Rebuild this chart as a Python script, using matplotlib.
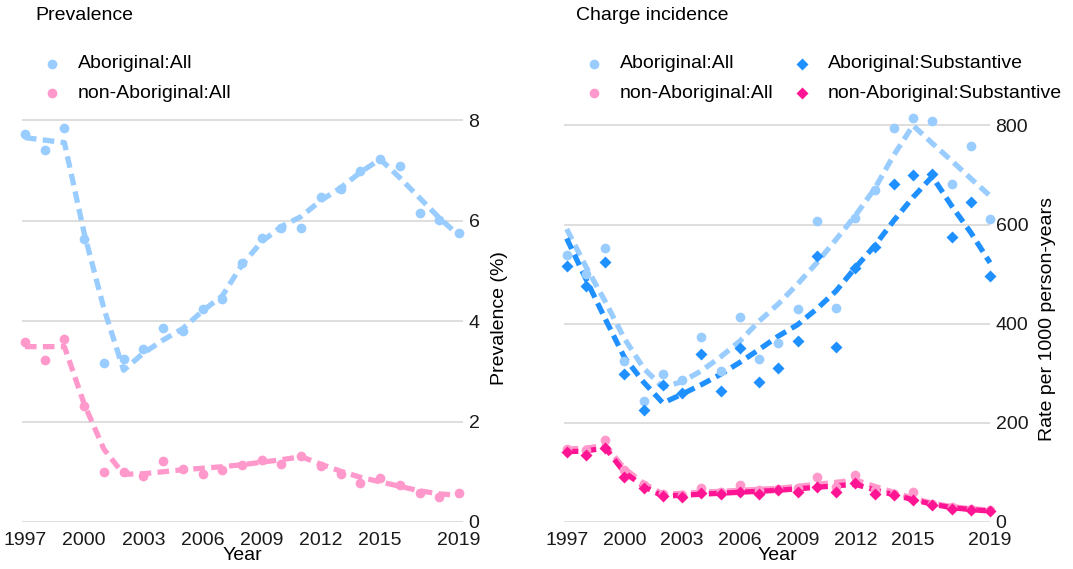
import numpy as np
import matplotlib.pyplot as plt

plt.rcParams['font.family'] = ['Liberation Sans', 'DejaVu Sans']

# data
years = list(range(1997, 2020))

# prevalence (%)
prev_abor = [7.72, 7.40, 7.84, 5.63, 3.16, 3.25, 3.45, 3.87, 3.80, 4.24, 4.43, 5.16,
             5.65, 5.86, 5.86, 6.47, 6.62, 6.99, 7.22, 7.09, 6.14, 6.01, 5.76]
prev_abor_fit = [7.65, 7.60, 7.55, 5.75, 4.25, 3.02, 3.36, 3.62, 3.85, 4.20, 4.50, 5.12,
                 5.58, 5.88, 6.08, 6.40, 6.65, 6.96, 7.22, 6.85, 6.45, 6.05, 5.70]
prev_non = [3.59, 3.22, 3.64, 2.30, 1.00, 1.00, 0.92, 1.22, 1.06, 0.96, 1.04, 1.13,
            1.24, 1.16, 1.31, 1.11, 0.95, 0.78, 0.88, 0.73, 0.58, 0.50, 0.58]
prev_non_fit = [3.49, 3.49, 3.49, 2.35, 1.45, 0.95, 0.96, 1.00, 1.04, 1.07, 1.10, 1.14,
                1.19, 1.24, 1.30, 1.15, 1.01, 0.89, 0.80, 0.71, 0.62, 0.56, 0.53]

# charge incidence (rate per 1000 person-years)
inc_abor_all = [538, 501, 553, 324, 245, 299, 286, 374, 304, 414, 329, 361,
                430, 608, 432, 613, 669, 795, 814, 809, 682, 759, 611]
inc_abor_all_fit = [591, 515, 445, 370, 310, 272, 283, 305, 333, 365, 405, 440,
                    480, 523, 570, 618, 672, 740, 800, 764, 729, 693, 658]
inc_abor_sub = [517, 476, 525, 299, 225, 277, 260, 338, 265, 351, 282, 311,
                366, 536, 353, 513, 554, 682, 699, 702, 574, 645, 496]
inc_abor_sub_fit = [572, 490, 410, 332, 282, 240, 258, 277, 298, 322, 348, 375,
                    398, 430, 466, 513, 557, 608, 655, 697, 638, 584, 523]
inc_non_all = [147, 145, 166, 105, 74, 57, 54, 68, 61, 74, 64, 66,
               68, 91, 71, 95, 64, 57, 60, 37, 30, 27, 24]
inc_non_all_fit = [147, 149, 155, 108, 78, 56, 58, 60, 62, 64, 66, 68,
                   72, 76, 80, 85, 72, 60, 48, 38, 31, 27, 24]
inc_non_sub = [142, 135, 149, 91, 68, 52, 51, 59, 57, 61, 57, 64,
               61, 71, 61, 78, 57, 54, 44, 34, 27, 24, 22]
inc_non_sub_fit = [142, 143, 150, 100, 72, 52, 54, 56, 58, 60, 62, 64,
                   67, 70, 73, 76, 65, 55, 45, 36, 29, 25, 22]

xticks = [1997, 2000, 2003, 2006, 2009, 2012, 2015, 2019]

LIGHT_BLUE = '#99CCFF'
LIGHT_PINK = '#FF99CC'
DARK_BLUE = '#1E90FF'
DARK_PINK = '#FF1493'
FS = 14

W, H = 1073, 569
fig = plt.figure(figsize=(W / 100, H / 100), dpi=100)


def px_axes(x0, x1, y0, y1):
    # pixel box -> figure fraction
    return fig.add_axes([x0 / W, 1 - y1 / H, (x1 - x0) / W, (y1 - y0) / H])


def style(ax, yticks, ylabel):
    for s in ax.spines.values():
        s.set_visible(False)
    ax.set_xticks(xticks)
    ax.set_yticks(yticks)
    ax.yaxis.tick_right()
    ax.yaxis.set_label_position('right')
    ax.tick_params(length=0, labelsize=FS, colors='#1a1a1a')
    ax.tick_params(axis='x', pad=7)
    ax.tick_params(axis='y', pad=4)
    ax.grid(axis='y', color='#D4D4D4', linewidth=1.1)
    ax.set_axisbelow(True)
    ax.set_xlabel('Year', fontsize=FS, labelpad=-1)
    ax.set_ylabel(ylabel, fontsize=FS, labelpad=8)


def fit_line(ax, y, color):
    ax.plot(years, y, color=color, lw=3.8, dashes=(2.2, 1.2),
            solid_capstyle='butt', dash_capstyle='butt', zorder=2, clip_on=False)


def dots(ax, y, color, marker='o', ms=7):
    ax.plot(years, y, ls='none', marker=marker, ms=ms, color=color,
            mec='none', zorder=3, clip_on=False)


# left: prevalence
ax1 = px_axes(22, 463, 115, 522)
ax1.set_xlim(1996.85, 2019.2)
ax1.set_ylim(0, 8.1)
style(ax1, [0, 2, 4, 6, 8], 'Prevalence (%)')
dots(ax1, prev_abor, LIGHT_BLUE)
fit_line(ax1, prev_abor_fit, LIGHT_BLUE)
dots(ax1, prev_non, LIGHT_PINK)
fit_line(ax1, prev_non_fit, LIGHT_PINK)

# right: charge incidence
ax2 = px_axes(564, 990, 115, 522)
ax2.set_xlim(1996.86, 2019.0)
ax2.set_ylim(0, 821)
style(ax2, [0, 200, 400, 600, 800], 'Rate per 1000 person-years')
dots(ax2, inc_abor_all, LIGHT_BLUE)
fit_line(ax2, inc_abor_all_fit, LIGHT_BLUE)
dots(ax2, inc_abor_sub, DARK_BLUE, marker='D', ms=6.5)
fit_line(ax2, inc_abor_sub_fit, DARK_BLUE)
dots(ax2, inc_non_all, LIGHT_PINK)
fit_line(ax2, inc_non_all_fit, LIGHT_PINK)
dots(ax2, inc_non_sub, DARK_PINK, marker='D', ms=6.5)
fit_line(ax2, inc_non_sub_fit, DARK_PINK)

# titles
fig.text(35 / W, 1 - 16 / H, 'Prevalence', fontsize=FS, va='center', ha='left')
fig.text(576 / W, 1 - 16 / H, 'Charge incidence', fontsize=FS, va='center', ha='left')


# legends drawn as marker + text
def legend_item(x, y, color, marker, label):
    fig.lines.append(plt.Line2D([x / W], [1 - y / H], transform=fig.transFigure,
                                marker=marker, ms=7 if marker == 'o' else 6.5,
                                color=color, mec='none', ls='none'))
    fig.text((x + 26) / W, 1 - y / H, label, fontsize=FS, va='center', ha='left')


legend_item(52, 64, LIGHT_BLUE, 'o', 'Aboriginal:All')
legend_item(52, 93, LIGHT_PINK, 'o', 'non-Aboriginal:All')
legend_item(594, 64, LIGHT_BLUE, 'o', 'Aboriginal:All')
legend_item(594, 93, LIGHT_PINK, 'o', 'non-Aboriginal:All')
legend_item(802, 64, DARK_BLUE, 'D', 'Aboriginal:Substantive')
legend_item(802, 93, DARK_PINK, 'D', 'non-Aboriginal:Substantive')

fig.savefig('out.png', dpi=100)
